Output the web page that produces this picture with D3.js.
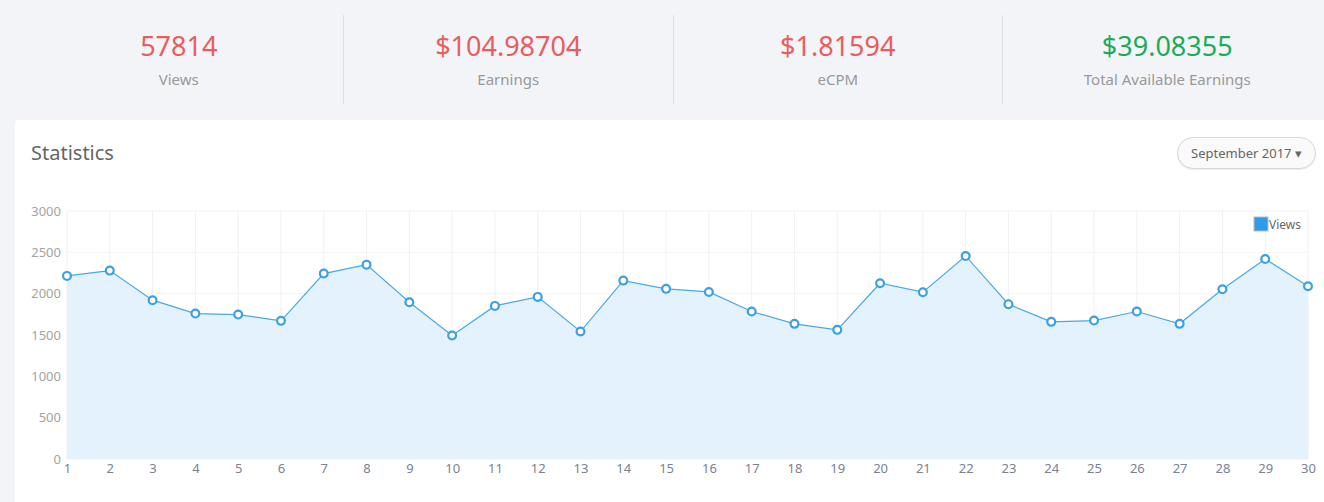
<!DOCTYPE html>
<html lang="en">
<head>
<meta charset="UTF-8">
<title>Statistics</title>
<script src="https://d3js.org/d3.v7.min.js"></script>
<style>
    html, body {
        margin: 0;
        padding: 0;
        background: #f3f4f8;
        font-family: "Noto Sans", "Open Sans", sans-serif;
        overflow: hidden;
    }
    .stats {
        position: absolute;
        left: 14px;
        top: 0;
        width: 1318px;
        height: 120px;
        display: flex;
    }
    .stat {
        flex: 1;
        text-align: center;
        position: relative;
    }
    .stat .num {
        position: absolute;
        left: 0; right: 0;
        top: 26px;
        font-size: 27px;
        line-height: 40px;
        color: #e85d5d;
    }
    .stat .num.green { color: #1dab5b; }
    .stat .lbl {
        position: absolute;
        left: 0; right: 0;
        top: 68px;
        font-size: 15px;
        line-height: 22px;
        color: #999;
    }
    .sep {
        position: absolute;
        top: 15px;
        width: 1px;
        height: 89px;
        background: #dde0e6;
    }
    .card {
        position: absolute;
        left: 15px;
        top: 120px;
        width: 1320px;
        height: 400px;
        background: #fff;
        border-radius: 4px;
    }
    .card h3 {
        position: absolute;
        margin: 0;
        left: 16px;
        top: 19px;
        font-weight: normal;
        font-size: 20px;
        color: #666;
    }
    .btn {
        position: absolute;
        left: 1162px;
        top: 17px;
        width: 137px;
        height: 30px;
        border: 1px solid #d8d8d8;
        border-radius: 16px;
        background: #fafafa;
        box-shadow: 0 1px 1px rgba(0,0,0,0.08);
        font-size: 13px;
        line-height: 30px;
        color: #666;
        text-align: center;
    }
    svg { position: absolute; left: 0; top: 0; }
</style>
</head>
<body>
<div class="stats" id="stats"></div>
<div class="card">
    <h3>Statistics</h3>
    <div class="btn">September 2017 &#9662;</div>
</div>
<svg id="chart" width="1324" height="502"></svg>
<script>
    const statValues = ["57814", "$104.98704", "$1.81594", "$39.08355"];
    const statLabels = ["Views", "Earnings", "eCPM", "Total Available Earnings"];
    const statGreen = [false, false, false, true];

    const days = d3.range(1, 31);
    const views = [2215, 2279, 1921, 1759, 1747, 1671, 2243, 2351, 1897, 1494,
                   1852, 1961, 1542, 2158, 2058, 2021, 1784, 1635, 1562, 2126,
                   2018, 2456, 1873, 1659, 1675, 1784, 1635, 2054, 2420, 2090];
    const yTicks = [0, 500, 1000, 1500, 2000, 2500, 3000];
    const seriesName = "Views";

    // top summary row
    const stats = d3.select("#stats");
    statValues.forEach((v, i) => {
        const s = stats.append("div").attr("class", "stat");
        s.append("div").attr("class", "num" + (statGreen[i] ? " green" : "")).text(v);
        s.append("div").attr("class", "lbl").text(statLabels[i]);
    });
    [329, 659, 988].forEach(x => {
        stats.append("div").attr("class", "sep").style("left", x + "px");
    });

    const margin = { left: 67, right: 16, top: 211, bottom: 43 };
    const W = 1324, H = 502;

    const svg = d3.select("#chart");

    const x = d3.scaleLinear()
        .domain([1, 30])
        .range([margin.left, W - margin.right]);

    const y = d3.scaleLinear()
        .domain([0, 3000])
        .range([H - margin.bottom, margin.top]);

    // grid
    svg.append("g")
        .selectAll("line")
        .data(days)
        .join("line")
        .attr("x1", d => x(d)).attr("x2", d => x(d))
        .attr("y1", y(3000)).attr("y2", y(0))
        .attr("stroke", "#eef1f5");

    svg.append("g")
        .selectAll("line")
        .data(yTicks)
        .join("line")
        .attr("x1", x(1)).attr("x2", x(30))
        .attr("y1", d => y(d)).attr("y2", d => y(d))
        .attr("stroke", "#f2f3f6");

    const data = days.map((d, i) => ({ day: d, value: views[i] }));

    svg.append("path")
        .datum(data)
        .attr("fill", "#e3f2fc")
        .attr("d", d3.area().x(d => x(d.day)).y0(y(0)).y1(d => y(d.value)));

    svg.append("path")
        .datum(data)
        .attr("fill", "none")
        .attr("stroke", "#4aa8e4")
        .attr("stroke-width", 1.2)
        .attr("d", d3.line().x(d => x(d.day)).y(d => y(d.value)));

    svg.append("g")
        .selectAll("circle")
        .data(data)
        .join("circle")
        .attr("cx", d => x(d.day))
        .attr("cy", d => y(d.value))
        .attr("r", 3.9)
        .attr("fill", "#fff")
        .attr("stroke", "#3c9fe3")
        .attr("stroke-width", 2.2);

    // axes
    const yAxis = svg.append("g")
        .attr("transform", `translate(${margin.left - 6},0)`)
        .call(d3.axisLeft(y).tickValues(yTicks).tickFormat(d3.format("d")).tickSize(0).tickPadding(0));
    yAxis.select(".domain").remove();
    yAxis.selectAll("text")
        .attr("fill", "#a3a3a3")
        .style("font-family", "Noto Sans, sans-serif")
        .style("font-size", "13px");

    const xAxis = svg.append("g")
        .attr("transform", `translate(0,${y(0)})`)
        .call(d3.axisBottom(x).tickValues(days).tickFormat(d3.format("d")).tickSize(0).tickPadding(5));
    xAxis.select(".domain").remove();
    xAxis.selectAll("text")
        .attr("fill", "#7a8192")
        .style("font-family", "Noto Sans, sans-serif")
        .style("font-size", "13px");

    // legend
    const lg = svg.append("g").attr("transform", "translate(1254,217)");
    lg.append("rect")
        .attr("width", 14).attr("height", 14)
        .attr("fill", "#2e9be9")
        .attr("stroke", "#bbb");
    lg.append("text")
        .attr("x", 15).attr("y", 12)
        .attr("fill", "#666")
        .style("font-size", "12px")
        .text(seriesName);
</script>
</body>
</html>
